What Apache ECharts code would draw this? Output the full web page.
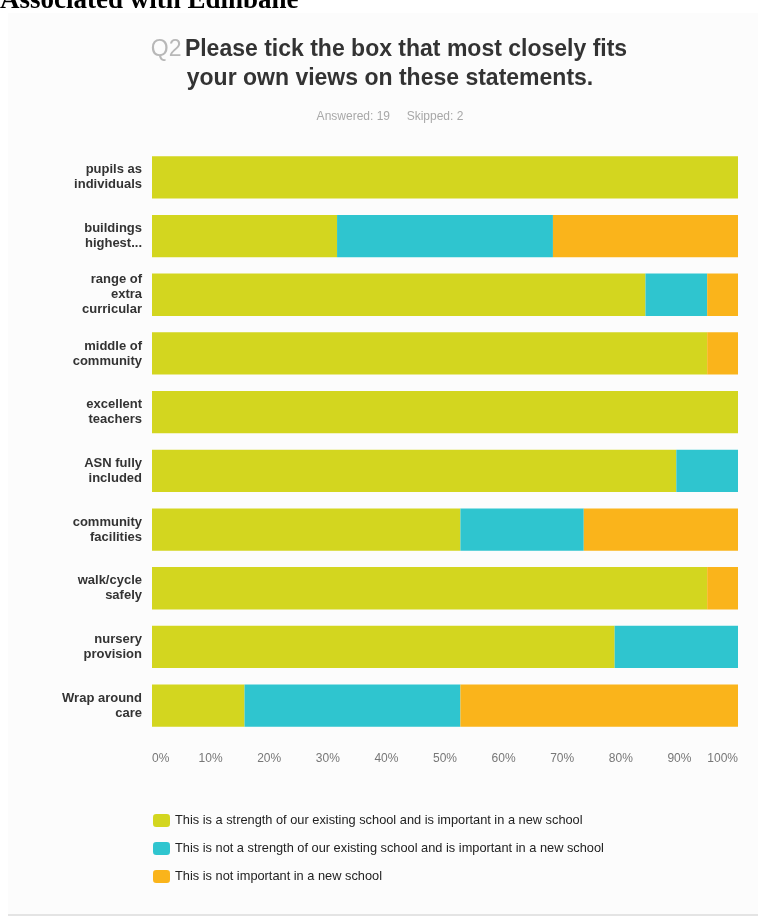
<!DOCTYPE html>
<html>
<head>
<meta charset="utf-8">
<script src="https://cdn.jsdelivr.net/npm/echarts@6/dist/echarts.min.js"></script>
<style>
  html, body { margin: 0; padding: 0; background: #ffffff; }
  #chart { width: 758px; height: 918px; }
</style>
</head>
<body>
<div id="chart"></div>
<script>
// Statements (top to bottom)
const categories = [
  'pupils as\nindividuals',
  'buildings\nhighest...',
  'range of\nextra\ncurricular',
  'middle of\ncommunity',
  'excellent\nteachers',
  'ASN fully\nincluded',
  'community\nfacilities',
  'walk/cycle\nsafely',
  'nursery\nprovision',
  'Wrap around\ncare'
];

// Response shares in percent (19 respondents)
const strengthImportant    = [100, 31.58, 84.21, 94.74, 100, 89.47, 52.63, 94.74, 78.95, 15.79];
const notStrengthImportant = [0, 36.84, 10.53, 0, 0, 10.53, 21.05, 0, 21.05, 36.84];
const notImportant         = [0, 31.58, 5.26, 5.26, 0, 0, 26.32, 5.26, 0, 47.37];

const seriesNames = [
  'This is a strength of our existing school and is important in a new school',
  'This is not a strength of our existing school and is important in a new school',
  'This is not important in a new school'
];

const xTicks = ['0%', '10%', '20%', '30%', '40%', '50%', '60%', '70%', '80%', '90%', '100%'];

const colors = ['#d3d61f', '#2fc5cf', '#fab41b'];

const SANS = '"Liberation Sans", Arial, sans-serif';

const chart = echarts.init(document.getElementById('chart'), null, { renderer: 'canvas' });

const barSeries = [strengthImportant, notStrengthImportant, notImportant].map((vals, i) => ({
  name: seriesNames[i],
  type: 'bar',
  stack: 'total',
  data: vals,
  barCategoryGap: '28%',
  itemStyle: { color: colors[i] },
  emphasis: { disabled: true }
}));

chart.setOption({
  animation: false,
  backgroundColor: '#ffffff',
  color: colors,
  graphic: [
    {
      type: 'rect', z: -10, silent: true,
      shape: { x: 8, y: 13, width: 750, height: 902 },
      style: { fill: '#fcfcfc' }
    },
    {
      type: 'line', z: -9, silent: true,
      shape: { x1: 8, y1: 915, x2: 758, y2: 915 },
      style: { stroke: '#e4e4e4', lineWidth: 2 }
    },
    {
      type: 'text', silent: true,
      style: {
        text: 'Associated with Edinbane',
        x: 0, y: 1,
        align: 'left', verticalAlign: 'middle',
        font: 'bold 27px "Liberation Serif", "Times New Roman", serif',
        fill: '#000000'
      }
    },
    {
      type: 'text', silent: true,
      style: {
        text: '{q|Q2} {t|Please tick the box that most closely fits}',
        x: 389, y: 50,
        align: 'center', verticalAlign: 'middle',
        rich: {
          q: { fontFamily: SANS, fontSize: 23, fill: '#b8b8b8' },
          t: { fontFamily: SANS, fontSize: 23, fontWeight: 'bold', fill: '#333333' }
        }
      }
    },
    {
      type: 'text', silent: true,
      style: {
        text: 'your own views on these statements.',
        x: 390, y: 79,
        align: 'center', verticalAlign: 'middle',
        font: 'bold 23px ' + SANS,
        fill: '#333333'
      }
    },
    {
      type: 'text', silent: true,
      style: {
        text: 'Answered: 19     Skipped: 2',
        x: 390, y: 117,
        align: 'center', verticalAlign: 'middle',
        font: '12px ' + SANS,
        fill: '#a8a8a8'
      }
    }
  ],
  grid: { left: 152, right: 20, top: 148, bottom: 183, containLabel: false },
  xAxis: {
    type: 'value',
    min: 0, max: 100, interval: 10,
    axisLine: { show: false },
    axisTick: { show: false },
    splitLine: { show: false },
    axisLabel: {
      margin: 18,
      color: '#777777',
      fontSize: 12,
      fontFamily: SANS,
      alignMinLabel: 'left',
      alignMaxLabel: 'right',
      formatter: (v) => xTicks[Math.round(v / 10)]
    }
  },
  yAxis: {
    type: 'category',
    inverse: true,
    data: categories,
    axisLine: { show: false },
    axisTick: { show: false },
    splitLine: { show: false },
    axisLabel: {
      margin: 10,
      color: '#333333',
      fontSize: 13,
      fontWeight: 'bold',
      lineHeight: 15,
      align: 'right',
      fontFamily: SANS
    }
  },
  legend: {
    orient: 'vertical',
    left: 148,
    top: 809,
    itemWidth: 17,
    itemHeight: 13,
    itemGap: 15,
    icon: 'roundRect',
    selectedMode: false,
    textStyle: {
      color: '#222222',
      fontSize: 12.8,
      fontFamily: SANS
    },
    data: seriesNames
  },
  series: barSeries
});
</script>
</body>
</html>
